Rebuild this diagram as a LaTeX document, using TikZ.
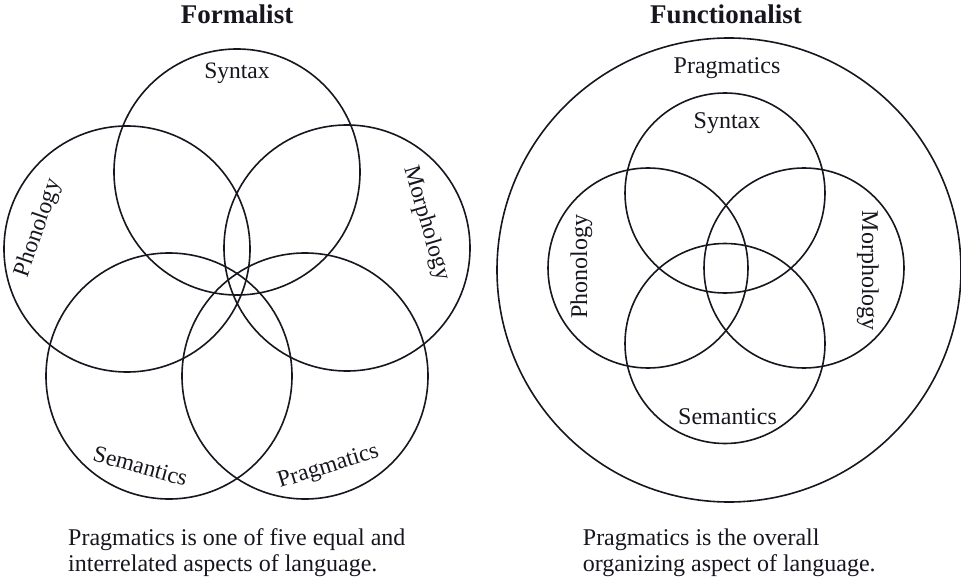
\documentclass[tikz,border=0pt]{standalone}
\usepackage{fontspec}
\setmainfont{Liberation Serif}
\definecolor{ink}{RGB}{22,22,30}
\begin{document}
\begin{tikzpicture}[x=1pt,y=1pt,
  ring/.style={draw=ink, line width=1.6pt, circle, inner sep=0pt},
  bigring/.style={ring, minimum size=246pt},
  smallring/.style={ring, minimum size=200pt},
  outerring/.style={ring, minimum size=464pt},
  lab/.style={text=ink, font=\fontsize{23.5}{28}\selectfont, inner sep=0pt, anchor=base},
  rlab/.style={text=ink, font=\fontsize{24}{28}\selectfont, inner sep=0pt, anchor=base},
  ttl/.style={text=ink, font=\fontsize{27}{32}\selectfont\bfseries, inner sep=0pt, anchor=base},
  captext/.style={text=ink, font=\fontsize{24}{28}\selectfont, inner sep=0pt, anchor=base west}]
\useasboundingbox (0,0) rectangle (961,-580);

% ---------- Formalist ----------
\node[ttl] (t1) at (237,-24) {Formalist};
\node[bigring] (lsyn) at (237,-172) {};
\node[bigring] (lmor) at (347,-248) {};
\node[bigring] (lpra) at (305,-376) {};
\node[bigring] (lsem) at (169,-376) {};
\node[bigring] (lpho) at (127,-249) {};

\node[lab] (lsynt) at (237,-79) {Syntax};
\node[lab, rotate=71] (lphot) at (44,-230) {Phonology};
\node[lab, rotate=-73.4] (lmort) at (421,-225) {Morphology};
\node[lab, rotate=-15.5] (lsemt) at (138.5,-473.5) {Semantics};
\node[lab, rotate=17.2] (lprat) at (330,-472.5) {Pragmatics};

\node[captext] (c1a) at (68,-545) {Pragmatics is one of five equal and};
\node[captext] (c1b) at (68,-571.5) {interrelated aspects of language.};

% ---------- Functionalist ----------
\node[ttl] (t2) at (726,-24) {Functionalist};
\node[outerring] (rpra) at (729,-270) {};
\node[smallring] (rsyn) at (725,-193) {};
\node[smallring] (rpho) at (648,-268) {};
\node[smallring] (rmor) at (804,-268) {};
\node[smallring] (rsem) at (725,-343.5) {};

\node[rlab] (rprat) at (727,-74) {Pragmatics};
\node[rlab] (rsynt) at (727,-128.3) {Syntax};
\node[rlab] (rsemt) at (727.5,-424) {Semantics};
\node[rlab, rotate=90] (rphot) at (587,-266.7) {Phonology};
\node[rlab, rotate=-90] (rmort) at (862,-271) {Morphology};

\node[captext] (c2a) at (582.7,-545) {Pragmatics is the overall};
\node[captext] (c2b) at (582.7,-571.5) {organizing aspect of language.};
\end{tikzpicture}
\end{document}
